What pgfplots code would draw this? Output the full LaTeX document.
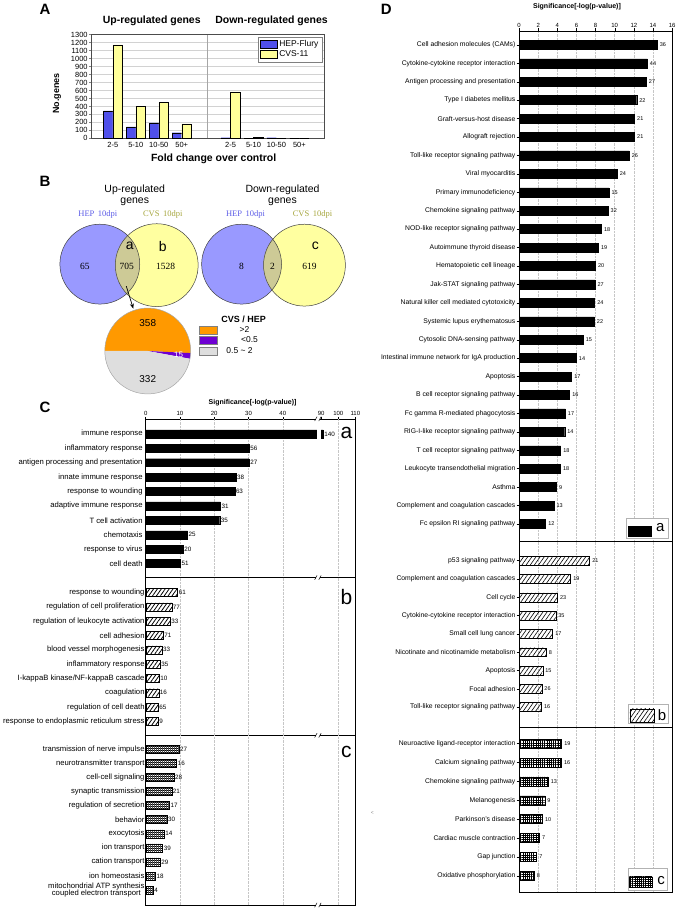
\documentclass[border=0pt]{standalone}
\usepackage{pgfplots}
\pgfplotsset{compat=1.18}
\usepackage{fontspec}
\setmainfont{Liberation Sans}
\newfontfamily\sernum{Liberation Serif}
\usetikzlibrary{patterns,patterns.meta,arrows.meta}
\definecolor{hepblue}{RGB}{80,80,235}
\definecolor{cvsyellow}{RGB}{255,255,153}
\definecolor{vblue}{RGB}{153,153,255}
\definecolor{vyellow}{RGB}{255,255,160}
\definecolor{vmid}{RGB}{205,202,150}
\definecolor{hepfont}{RGB}{90,90,230}
\definecolor{cvsfont}{RGB}{165,165,60}
\definecolor{pieorange}{RGB}{255,153,0}
\definecolor{piepurple}{RGB}{110,0,210}
\definecolor{piegrey}{RGB}{222,222,222}
\newcommand{\fs}[1]{\fontsize{#1}{#1}\selectfont}

\pgfplotsset{
  secC/.style={scale only axis, width=210pt, xmin=0, xmax=61.2, y dir=reverse,
    axis line style={black,line width=0.6pt},
    ytick style={draw=none}, yticklabel style={font=\fs{7.7}, inner sep=1pt},
    xtick=\empty,
    extra x ticks={10,20,30,40,56.2}, extra x tick labels={},
    extra x tick style={grid=major, major tick length=0pt},
    grid style={densely dotted, gray!45, line width=0.5pt},
    clip=false, bar width=8pt,
    nodes near coords, point meta=explicit symbolic,
    nodes near coords style={font=\fs{6.3}, anchor=west, inner sep=1pt},
  },
  secD/.style={scale only axis, width=153.3pt, xmin=0, xmax=16, y dir=reverse,
    axis line style={black,line width=0.5pt},
    ytick pos=left, tick align=outside, major tick length=2.5pt,
    ytick style={black, line width=0.4pt},
    yticklabel style={font=\fs{6.8}, inner sep=1pt},
    xtick={0,2,...,16}, xticklabels={}, xtick style={draw=none},
    xmajorgrids, grid style={densely dotted, gray!45, line width=0.5pt},
    clip=false, bar width=9pt,
    nodes near coords, point meta=explicit symbolic,
    nodes near coords style={font=\fs{5.5}, anchor=west, inner sep=1pt, xshift=1.5pt},
  },
}

\begin{document}
\begin{tikzpicture}[x=1pt,y=1pt]
\path (0,0) rectangle (680,-914);

% ---------------- Panel A ----------------
\node[font=\bfseries\fs{15}] at (45,-8) {A};
\node[font=\bfseries\fs{10.5}] at (152,-19) {Up-regulated genes};
\node[font=\bfseries\fs{10.5}] at (272,-19) {Down-regulated genes};
\begin{axis}[
  at={(91pt,-137pt)}, anchor=south west,
  width=234pt, height=104pt, scale only axis,
  xmin=0.04, xmax=10.22, ymin=0, ymax=1300,
  ybar=0pt, bar width=9.5pt,
  ytick={0,100,...,1300},
  xtick={1,2,3,4,6.13,7.13,8.13,9.13},
  xticklabels={2-5,5-10,10-50,50+,2-5,5-10,10-50,50+},
  xtick style={draw=none},
  ytick pos=left, tick align=outside, major tick length=2pt,
  ymajorgrids, grid style={gray!35, line width=0.9pt},
  axis line style={gray!60!black, line width=0.6pt},
  yticklabel style={font=\fs{7.5}, inner sep=1pt},
  xticklabel style={font=\fs{7.5}, inner sep=2pt},
  /pgf/number format/assume math mode=true,
  /pgf/number format/1000 sep={},
  legend style={at={(0.99,0.975)}, anchor=north east, font=\fs{8.5}, draw=gray, inner sep=1.5pt, row sep=-1.5pt, cells={anchor=west}},
  legend image code/.code={\draw[#1] (0pt,-3.5pt) rectangle (17pt,5pt);},
]
\addplot[fill=hepblue, draw=black, line width=0.3pt] coordinates {
 (1,344) (2,143) (3,193) (4,71) (6.13,8) (7.13,1) (8.13,8) (9.13,0)};
\addplot[fill=cvsyellow, draw=black, line width=0.3pt] coordinates {
 (1,1170) (2,398) (3,449) (4,180) (6.13,583) (7.13,17) (8.13,0) (9.13,0)};
\legend{HEP-Flury, CVS-11}
\draw[gray!70, line width=0.6pt] (axis cs:5.12,0) -- (axis cs:5.12,1300);
\end{axis}
\node[font=\bfseries\fs{9}, rotate=90] at (57,-92) {No.genes};
\node[font=\bfseries\fs{10.5}] at (214,-157) {Fold change over control};

% ---------------- Panel B ----------------
\node[font=\bfseries\fs{15}] at (45,-180) {B};
\node[font=\fs{10.5}, align=center] at (135,-194) {Up-regulated\\genes};
\node[font=\fs{10.5}, align=center] at (283,-194) {Down-regulated\\genes};
\node[font=\sernum\fs{8.5}, text=hepfont] at (98,-213) {HEP\, 10dpi};
\node[font=\sernum\fs{8.5}, text=cvsfont] at (163,-213) {CVS\, 10dpi};
\node[font=\sernum\fs{8.5}, text=hepfont] at (246,-213) {HEP\, 10dpi};
\node[font=\sernum\fs{8.5}, text=cvsfont] at (313,-213) {CVS\, 10dpi};
% up venn
\fill[vblue] (100,-263) circle[radius=40pt];
\fill[vyellow] (157,-264) circle[radius=41.5pt];
\begin{scope}\clip (100,-263) circle[radius=40pt]; \fill[vmid] (157,-264) circle[radius=41.5pt];\end{scope}
\draw[gray!50!black, line width=0.5pt] (100,-263) circle[radius=40pt] (157,-264) circle[radius=41.5pt];
% down venn
\fill[vblue] (242,-263) circle[radius=40pt];
\fill[vyellow] (305,-264) circle[radius=41pt];
\begin{scope}\clip (242,-263) circle[radius=40pt]; \fill[vmid] (305,-264) circle[radius=41pt];\end{scope}
\draw[gray!50!black, line width=0.5pt] (242,-263) circle[radius=40pt] (305,-264) circle[radius=41pt];
\node[font=\sernum\fs{9.5}] at (85,-265) {65};
\node[font=\sernum\fs{9.5}] at (127,-265) {705};
\node[font=\sernum\fs{9.5}] at (166,-265) {1528};
\node[font=\fs{14}] at (130,-245) {a};
\node[font=\fs{14}] at (163,-245) {b};
\node[font=\sernum\fs{9.5}] at (242,-265) {8};
\node[font=\sernum\fs{9.5}] at (273,-265) {2};
\node[font=\sernum\fs{9.5}] at (310,-265) {619};
\node[font=\fs{14}] at (316,-245) {c};
\draw[-{Stealth[length=5pt,width=4pt]}, line width=0.7pt] (126.5,-285) -- (133.5,-307.5);
% pie
\pgfmathsetmacro{\tot}{358+15+332}
\pgfmathsetmacro{\aO}{358/\tot*360}
\pgfmathsetmacro{\aP}{15/\tot*360}
\pgfmathsetmacro{\sO}{180-\aO}
\pgfmathsetmacro{\sP}{180-\aO-\aP}
\pgfmathsetmacro{\eG}{360+\sP}
\fill[pieorange] (148,-350) -- ++(\sO:43pt) arc[start angle=\sO, end angle=180, radius=43pt] -- cycle;
\fill[piepurple] (148,-350) -- ++(\sP:43pt) arc[start angle=\sP, end angle=\sO, radius=43pt] -- cycle;
\fill[piegrey] (148,-350) -- ++(180:43pt) arc[start angle=180, end angle=\eG, radius=43pt] -- cycle;
\draw[gray!70, line width=0.5pt] (148,-350) circle[radius=43pt];
\node[font=\fs{10}] at (148,-322) {358};
\node[font=\fs{10}] at (148,-378) {332};
\node[font=\fs{8}, text=white] at (179,-354) {15};
\node[font=\bfseries\fs{9}] at (244,-318) {CVS / HEP};
\draw[gray, fill=pieorange] (200,-325) rectangle (218,-333.5);
\draw[gray, fill=piepurple] (200,-335) rectangle (218,-343.5);
\draw[gray, fill=piegrey] (200,-346) rectangle (218,-354.5);
\node[font=\fs{8.5}] at (245,-328.5) {>2};
\node[font=\fs{8.5}] at (250,-339) {<0.5};
\node[font=\fs{8.5}] at (240,-350) {0.5 \textasciitilde\ 2};

% ---------------- Panel C ----------------
\node[font=\bfseries\fs{15}] at (45,-406) {C};
\node[font=\bfseries\fs{7}] at (253,-402) {Significance[-log(p-value)]};
\begin{axis}[secC, at={(146pt,-418pt)}, anchor=north west, height=159pt,
  ymin=-1.04, ymax=9.97, ytick={0,...,9},
  yticklabels={immune response, inflammatory response, antigen processing and presentation, innate immune response, response to wounding, adaptive immune response, T cell activation, chemotaxis, response to virus, cell death},
  xtick={0,10,20,30,40,51.2,56.2,61.2}, xticklabels={0,10,20,30,40,90,100,110},
  xtick pos=right, xticklabel pos=right, tick align=outside,
  xtick style={draw=black, line width=0.5pt}, major tick length=2pt,
  xticklabel style={font=\fs{6}, inner sep=1pt}]
% x past the break: u = 51.2 + (x-90)/2 ; immune response ~91.2 -> 51.8
\addplot[xbar, fill=black, draw=black] coordinates {
 (51.8,0) [140] (30.2,1) [56] (30.2,2) [27] (26.3,3) [38] (26.0,4) [63]
 (21.8,5) [31] (21.6,6) [35] (12.2,7) [25] (10.9,8) [20] (10.1,9) [51]};
\fill[white] (axis cs:49.9,-0.6) rectangle (axis cs:51.1,0.6);
\end{axis}
\begin{axis}[secC, at={(146pt,-577pt)}, anchor=north west, height=158pt,
  ymin=-1.05, ymax=9.98, ytick={0,...,9},
  yticklabels={response to wounding, regulation of cell proliferation, regulation of leukocyte activation, cell adhesion, blood vessel morphogenesis, inflammatory response, I-kappaB kinase/NF-kappaB cascade, coagulation, regulation of cell death, response to endoplasmic reticulum stress}]
\addplot[xbar, draw=black, pattern={Lines[angle=55,distance=3.2pt,line width=0.8pt]}] coordinates {
 (9.3,0) [61] (7.6,1) [77] (7.1,2) [33] (5.1,3) [71] (4.7,4) [33]
 (4.2,5) [35] (3.9,6) [10] (3.8,7) [16] (3.6,8) [65] (3.6,9) [9]};
\end{axis}
\begin{axis}[secC, at={(146pt,-735pt)}, anchor=north west, height=170pt,
  ymin=-0.99, ymax=11.06, ytick={0,...,10},
  yticklabel style={align=center},
  yticklabels={transmission of nerve impulse, neurotransmitter transport, cell-cell signaling, synaptic transmission, regulation of secretion, behavior, exocytosis, ion transport, cation transport, ion homeostasis, {mitochondrial ATP synthesis\\coupled electron transport}}]
\addplot[xbar, draw=black, pattern={Hatch[angle=0,distance=2pt,line width=0.35pt]}] coordinates {
 (9.7,0) [27] (9.0,1) [16] (8.2,2) [28] (7.6,3) [21] (6.9,4) [17] (6.2,5) [30]
 (5.4,6) [14] (4.95,7) [39] (4.2,8) [29] (2.8,9) [18] (2.2,10) [4]};
\end{axis}
% break marks
\foreach \yy in {418,577,735,905}{
  \fill[white] (316.3,-\yy-1.6) rectangle (320.6,-\yy+1.6);
  \draw[line width=0.5pt] (315.2,-\yy-2.2) -- (317.6,-\yy+2.2);
  \draw[line width=0.5pt] (319.3,-\yy-2.2) -- (321.7,-\yy+2.2);
}
\node[font=\fs{21}] at (347,-432) {a};
\node[font=\fs{21}] at (347,-596) {b};
\node[font=\fs{21}] at (347,-752) {c};

% ---------------- Panel D ----------------
\node[font=\bfseries\fs{15}] at (387,-8) {D};
\node[font=\bfseries\fs{7}] at (578,-5) {Significance[-log(p-value)]};
\begin{axis}[secD, at={(520pt,-29.3pt)}, anchor=north west, height=511.7pt,
  ymin=-0.76, ymax=26.96, ytick={0,...,26},
  xticklabels={0,2,4,6,8,10,12,14,16}, xtick pos=right, xticklabel pos=right,
  xtick style={draw=black, line width=0.4pt},
  xticklabel style={font=\fs{6}, inner sep=1pt},
  yticklabels={Cell adhesion molecules (CAMs), Cytokine-cytokine receptor interaction, Antigen processing and presentation, Type I diabetes mellitus, Graft-versus-host disease, Allograft rejection, Toll-like receptor signaling pathway, Viral myocarditis, Primary immunodeficiency, Chemokine signaling pathway, NOD-like receptor signaling pathway, Autoimmune thyroid disease, Hematopoietic cell lineage, Jak-STAT signaling pathway, Natural killer cell mediated cytotoxicity, Systemic lupus erythematosus, Cytosolic DNA-sensing pathway, Intestinal immune network for IgA production, Apoptosis, B cell receptor signaling pathway, Fc gamma R-mediated phagocytosis, RIG-I-like receptor signaling pathway, T cell receptor signaling pathway, Leukocyte transendothelial migration, Asthma, Complement and coagulation cascades, Fc epsilon RI signaling pathway}]
\addplot[xbar, fill=black, draw=black] coordinates {
 (14.43,0) [36] (13.4,1) [44] (13.3,2) [27] (12.3,3) [22] (12.07,4) [21]
 (12.07,5) [21] (11.5,6) [26] (10.26,7) [24] (9.4,8) [15] (9.3,9) [32]
 (8.6,10) [18] (8.3,11) [19] (7.97,12) [20] (7.93,13) [27] (7.9,14) [24]
 (7.86,15) [22] (6.7,16) [15] (5.98,17) [14] (5.5,18) [17] (5.29,19) [16]
 (4.83,20) [17] (4.77,21) [14] (4.35,22) [18] (4.31,23) [18] (3.9,24) [9]
 (3.65,25) [13] (2.78,26) [12]};
\end{axis}
\begin{axis}[secD, at={(520pt,-541pt)}, anchor=north west, height=185.7pt,
  ymin=-1.04, ymax=9.09, ytick={0,...,8},
  yticklabels={p53 signaling pathway, Complement and coagulation cascades, Cell cycle, Cytokine-cytokine receptor interaction, Small cell lung cancer, Nicotinate and nicotinamide metabolism, Apoptosis, Focal adhesion, Toll-like receptor signaling pathway}]
\addplot[xbar, draw=black, pattern={Lines[angle=55,distance=3.4pt,line width=0.6pt]}] coordinates {
 (7.37,0) [21] (5.39,1) [19] (4.0,2) [23] (3.83,3) [35] (3.5,4) [17]
 (2.82,5) [8] (2.47,6) [15] (2.37,7) [26] (2.33,8) [16]};
\end{axis}
\begin{axis}[secD, at={(520pt,-726.7pt)}, anchor=north west, height=165.6pt,
  ymin=-0.88, ymax=7.88, ytick={0,...,7},
  yticklabels={Neuroactive ligand-receptor interaction, Calcium signaling pathway, Chemokine signaling pathway, Melanogenesis, Parkinson's disease, Cardiac muscle contraction, Gap junction, Oxidative phosphorylation}]
\addplot[xbar, draw=black, pattern={Hatch[angle=0,distance=2.2pt,line width=0.35pt]}] coordinates {
 (4.45,0) [19] (4.42,1) [16] (3.03,2) [13] (2.68,3) [9] (2.43,4) [10]
 (2.12,5) [7] (1.84,6) [7] (1.57,7) [8]};
\end{axis}
% D legends
\draw[gray!60, fill=white] (627.5,-517) rectangle (669,-538);
\fill[black] (629.5,-525) rectangle (653.5,-536.5);
\node[font=\fs{15}] at (661.5,-527) {a};
\draw[gray!60, fill=white] (629.3,-704) rectangle (669.3,-722.7);
\draw[black, pattern={Lines[angle=55,distance=3.4pt,line width=0.6pt]}] (631,-708.5) rectangle (655,-721.5);
\node[font=\fs{15}] at (663.3,-714.5) {b};
\draw[gray!60, fill=white] (629.3,-867.7) rectangle (668.3,-890);
\draw[black, pattern={Hatch[angle=0,distance=2.2pt,line width=0.35pt]}] (630.5,-876.7) rectangle (653.3,-886.7);
\node[font=\fs{15}] at (662.3,-880) {c};
\node[font=\fs{5}, text=gray] at (373,-813) {<};
\end{tikzpicture}
\end{document}
